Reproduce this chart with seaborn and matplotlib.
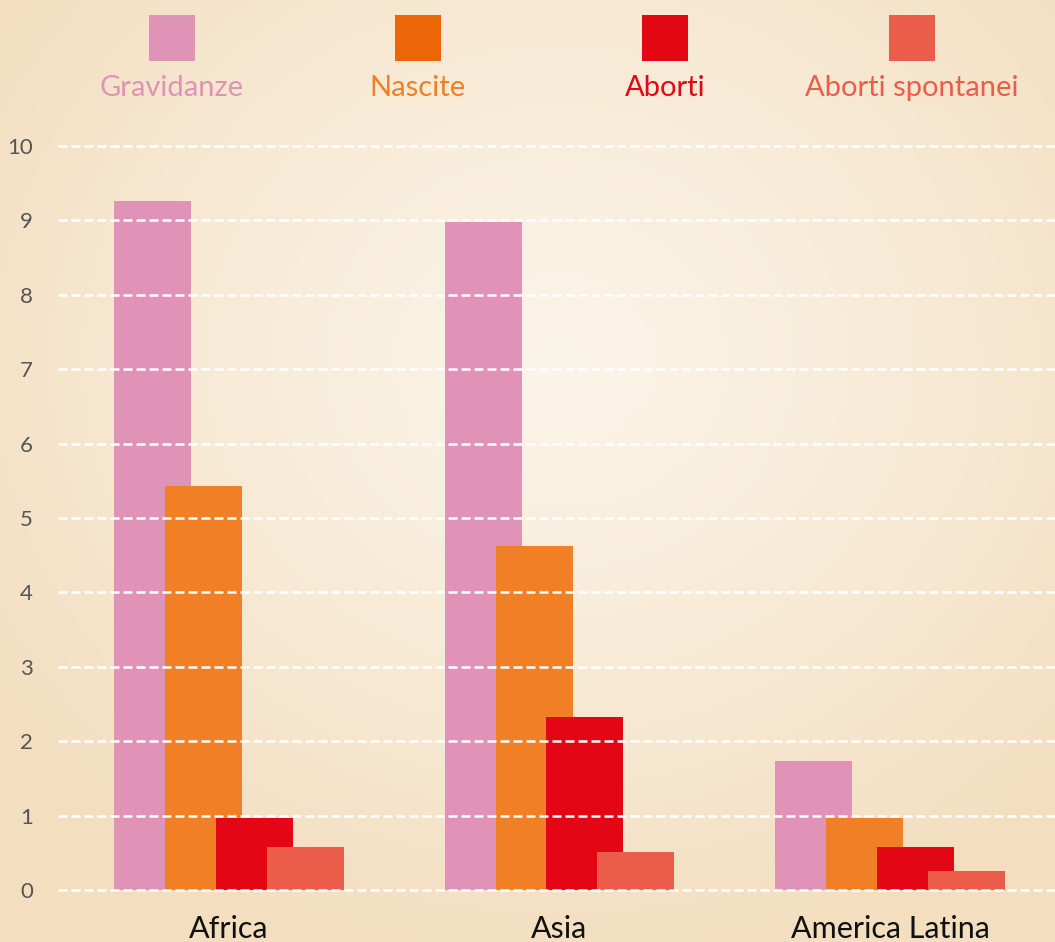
import numpy as np
import pandas as pd
import matplotlib
matplotlib.use("Agg")
import matplotlib.pyplot as plt
from matplotlib.patches import Rectangle
import seaborn as sns

# ---- data ----
regions = ["Africa", "Asia", "America Latina"]
series = ["Gravidanze", "Nascite", "Aborti", "Aborti spontanei"]
gravidanze = [9.26, 8.98, 1.73]
nascite = [5.43, 4.63, 0.97]
aborti = [0.97, 2.32, 0.58]
aborti_spontanei = [0.58, 0.51, 0.26]
y_ticks = [0, 1, 2, 3, 4, 5, 6, 7, 8, 9, 10]

bar_colors = ["#E093B7", "#F07F26", "#E30614", "#EB5C4A"]
legend_colors = ["#DF93B6", "#EC6608", "#E30613", "#EB5C4A"]
text_colors = ["#DF93B6", "#F07F26", "#E30613", "#EB5C4A"]

df = pd.DataFrame({
    "region": regions * 4,
    "serie": sum([[s] * 3 for s in series], []),
    "value": gravidanze + nascite + aborti + aborti_spontanei,
})

sns.set_theme(style="white")
plt.rcParams["font.family"] = ["Lato", "DejaVu Sans"]

W, H = 1055, 942
fig = plt.figure(figsize=(W / 100, H / 100), dpi=100)

# background radial gradient
bg = fig.add_axes([0, 0, 1, 1], zorder=-10)
yy, xx = np.mgrid[0:H, 0:W]
r = np.sqrt(((xx - 560) / 700.0) ** 2 + ((yy - 360) / 620.0) ** 2)
r = np.clip(r, 0, 1)
c0 = np.array([251, 244, 232]) / 255.0
c1 = np.array([243, 222, 191]) / 255.0
img = c0[None, None, :] + (c1 - c0)[None, None, :] * (r[..., None] ** 1.2)
bg.imshow(img, aspect="auto", extent=[0, 1, 0, 1], origin="upper")
bg.axis("off")

# main axes
ylo, yhi = -0.05, 10.05
px_per = 74.4
ax_bottom_px = 890 + 0.05 * px_per
ax_top_px = 146 - 0.05 * px_per
left = 58 / W
ax = fig.add_axes([left, (H - ax_bottom_px) / H, 1 - left, (ax_bottom_px - ax_top_px) / H])
ax.patch.set_alpha(0)

sns.barplot(data=df, x="region", y="value", hue="serie", order=regions,
            hue_order=series, palette=bar_colors, saturation=1, width=0.614,
            linewidth=0, errorbar=None, legend=False, ax=ax)

bw = 0.233
for p in ax.patches:
    cx = p.get_x() + p.get_width() / 2
    p.set_width(bw)
    p.set_x(cx - bw / 2)

ax.set_xlim((58 - 229) / 330.5, (1055 - 229) / 330.5)
ax.set_ylim(ylo, yhi)
ax.set_yticks(y_ticks)
ax.set_yticklabels([str(t) for t in y_ticks], fontsize=16, color="#555555")
ax.set_xticks(range(len(regions)))
ax.set_xticklabels(regions, fontsize=22, color="#111111")
ax.tick_params(axis="y", length=0, pad=18)
ax.tick_params(axis="x", length=0, pad=15)
ax.set_xlabel("")
ax.set_ylabel("")
for s in ax.spines.values():
    s.set_visible(False)
ax.set_axisbelow(False)
ax.yaxis.grid(True, color="white", linewidth=1.8, linestyle=(0, (3.6, 1.6)))
ax.xaxis.grid(False)

# legend: squares above labels
centers = [172, 418, 665, 912]
sq = 46
for name, cx, fc, tc in zip(series, centers, legend_colors, text_colors):
    fig.patches.append(Rectangle(((cx - sq / 2) / W, (H - 61) / H), sq / W, sq / H,
                                 transform=fig.transFigure, facecolor=fc,
                                 edgecolor="none"))
    fig.text(cx / W, (H - 88) / H, name, ha="center", va="center",
             fontsize=21, color=tc)

fig.savefig("out.png", dpi=100)
